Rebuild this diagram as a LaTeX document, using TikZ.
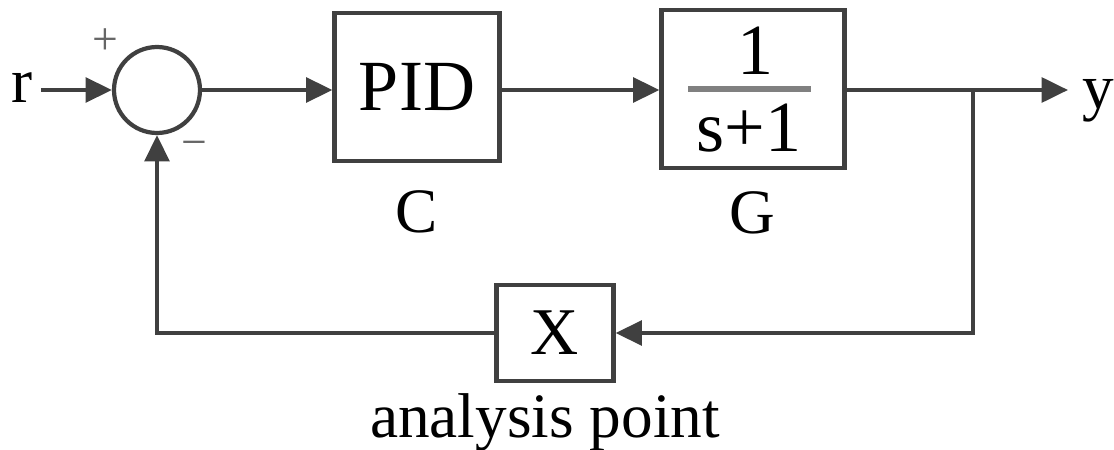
\documentclass[tikz,border=0pt]{standalone}
\usepackage{fontspec}
\setmainfont{Liberation Serif}
\usetikzlibrary{arrows.meta,positioning,calc}

\begin{document}
\begin{tikzpicture}[
	x=0.02cm, y=-0.02cm,
	>={Triangle[length=15pt,width=14pt]},
	block/.style={
		draw=black!75,
		line width=2.4pt,
		inner sep=0pt,
		font=\fontsize{41}{44}\selectfont
	},
	fractext/.style={
		inner sep=0pt,
		font=\fontsize{41}{44}\selectfont
	},
	sumnode/.style={
		draw=black!75,
		line width=2.4pt,
		circle,
		minimum size=1.72cm,
		inner sep=0pt
	},
	lbl/.style={
		inner sep=0pt,
		font=\fontsize{36}{40}\selectfont
	},
	sign/.style={
		inner sep=0pt,
		text=black!60,
		font=\fontsize{26}{28}\selectfont
	},
	sig/.style={
		->,
		draw=black!75,
		line width=2.4pt
	},
	fracbar/.style={
		draw=black!50,
		line width=3pt
	}
	]
	
	\useasboundingbox (0,0) rectangle (1114,449);
	
	% Summing junction
	\node[sumnode] (sum) at (157,90) {};
	\node[lbl,anchor=base] (r) at (22,103) {r};
	\node[sign] (plus) at (105,42) {+};
	\node[sign] (minus) at (194,149) {−};
	
	% Blocks
	\node[block,minimum width=3.3cm,minimum height=2.96cm] (pid) at (417,87) {PID};
	\node[lbl,anchor=base] (clbl) at ($(pid.south)+(0,69)$) {C};
	
	\node[block,minimum width=3.66cm,minimum height=3.16cm] (plant) at (753,89) {};
	\node[fractext,anchor=base] (num) at ($(plant.center)+(2,-14)$) {1};
	\node[fractext,anchor=base] (den) at ($(plant.center)+(-4,63)$) {s+1};
	\draw[fracbar] ($(plant.center)+(-65,0)$) -- ($(plant.center)+(58,0)$);
	\node[lbl,anchor=base] (glbl) at ($(plant.south)+(-1,63)$) {G};
	
	\node[block,minimum width=2.34cm,minimum height=1.92cm,font=\fontsize{38}{40}\selectfont] (apt) at (555,333) {X};
	\node[lbl,anchor=base] (aptlbl) at (545,437) {analysis point};
	
	% Output
	\coordinate (branch) at (973,90);
	\coordinate (yend) at (1068,90);
	\node[lbl,anchor=base] (ylbl) at (1098,109) {y};
	
	% Signals
	\draw[sig] (sum.west -| r.east) ++(8,0) -- (sum.west);
	\draw[sig] (sum.east) -- (sum.east -| pid.west);
	\draw[sig] (pid.east |- sum.east) -- (plant.west |- sum.east);
	\draw[sig] (plant.east |- branch) -- (yend);
	\draw[sig] (branch) |- (apt.east);
	\draw[sig] (apt.west) -| (sum.south);
	
\end{tikzpicture}
\end{document}
